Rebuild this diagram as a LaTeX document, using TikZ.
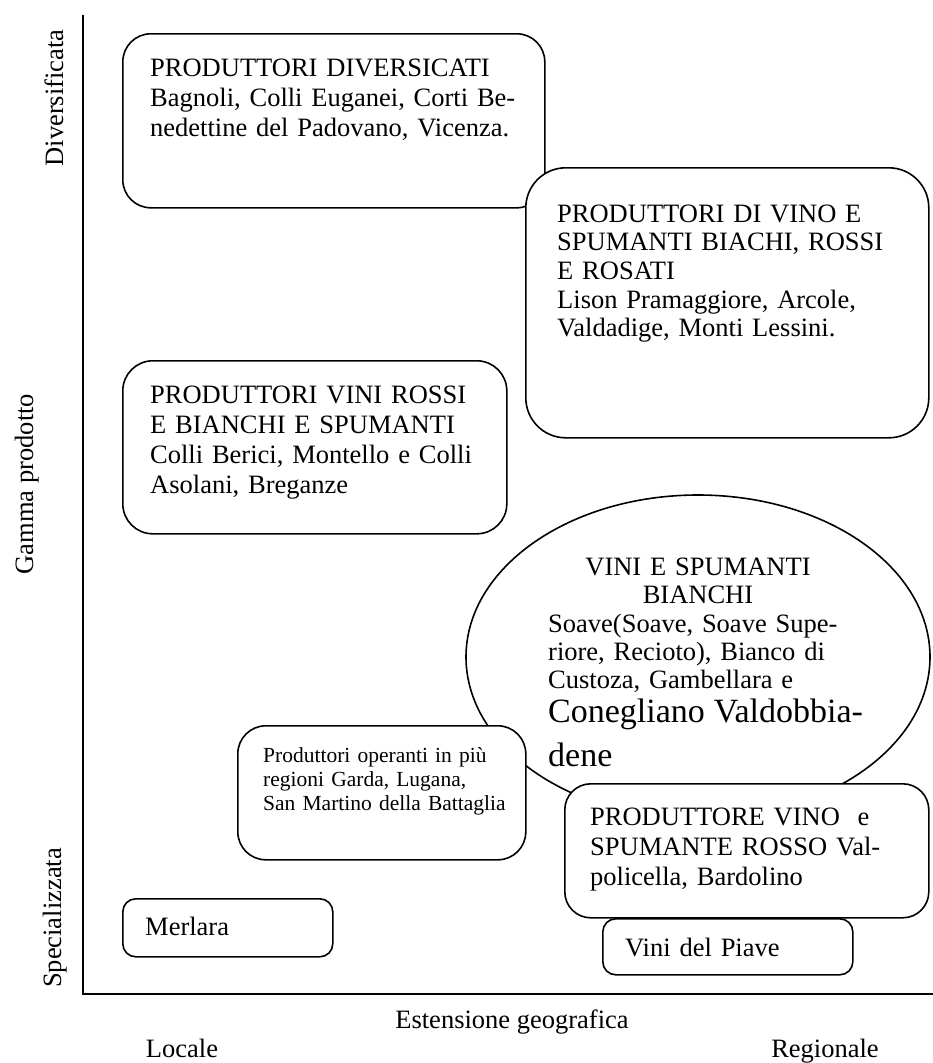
\documentclass[tikz,border=0pt]{standalone}
\usepackage{fontspec}
\setmainfont{Liberation Serif}
\usetikzlibrary{shapes.geometric}

\begin{document}
\begin{tikzpicture}[x=1pt, y=-1pt,
    box/.style={draw, line width=1.6pt, fill=white, rounded corners=#1,
      anchor=north west, inner sep=0pt},
    box/.default=28pt,
    txt/.style={anchor=base west, inner sep=0pt, text width=400pt, align=left,
      font=\fontsize{26.5}{30}\selectfont},
    lbl/.style={anchor=base, inner sep=0pt, font=\fontsize{26.5}{30}\selectfont}]
  \useasboundingbox (0,0) rectangle (933,1063);
  % assi
  \coordinate (top) at (83,15);
  \coordinate (origin) at (83,994);
  \coordinate (right) at (933,994);
  \draw[line width=1.6pt] (top) -- (origin) -- (right);
  \node[lbl, rotate=90] (divers) at (63,98) {Diversificata};
  \node[lbl, rotate=90] (gamma) at (33,484) {Gamma prodotto};
  \node[lbl, rotate=90] (spec) at (61,918) {Specializzata};
  \node[lbl] (estens) at (512,1028) {Estensione geografica};
  \node[lbl] (locale) at (182,1057) {Locale};
  \node[lbl] (regio) at (825,1057) {Regionale};
  % riquadri
  \node[box, minimum width=422pt, minimum height=174pt] (diversi) at (122,33) {};
  \node[txt] at (150,76) {PRODUTTORI DIVERSICATI\\
    Bagnoli, Colli Euganei, Corti Be-\\
    nedettine del Padovano, Vicenza.};
  \node[box=40pt, minimum width=403pt, minimum height=270pt] (rosati) at (525,167) {};
  \node[txt, font=\fontsize{26.5}{28.7}\selectfont] at (557,222) {PRODUTTORI DI VINO E\\
    SPUMANTI BIACHI, ROSSI\\
    E ROSATI\\
    Lison Pramaggiore, Arcole,\\
    Valdadige, Monti Lessini.};
  \node[box=30pt, minimum width=384pt, minimum height=173pt] (rossi) at (122,360) {};
  \node[txt] at (150,403) {PRODUTTORI VINI ROSSI\\
    E BIANCHI E SPUMANTI\\
    Colli Berici, Montello e Colli\\
    Asolani, Breganze};
  \node[draw, ellipse, line width=1.6pt, fill=white, inner sep=0pt,
    minimum width=464pt, minimum height=324pt] (bianchi) at (698,657) {};
  \node[txt, anchor=base, text width=300pt, align=center,
    font=\fontsize{26.5}{28.3}\selectfont] at (698,575) {VINI E SPUMANTI\\ BIANCHI};
  \node[txt, font=\fontsize{26.5}{28.3}\selectfont] at (548,632) {Soave(Soave, Soave Supe-\\
    riore, Recioto), Bianco di\\
    Custoza, Gambellara e\\[5.7pt]
    {\fontsize{34}{39}\selectfont Conegliano Valdobbia-}\\[11.7pt]
    {\fontsize{34}{39}\selectfont dene}};
  \node[box, minimum width=288pt, minimum height=134pt] (regioni) at (237,725) {};
  \node[txt, font=\fontsize{21.5}{24}\selectfont] at (263,762) {Produttori operanti in più\\
    regioni Garda, Lugana,\\
    San Martino della Battaglia};
  \node[box=26pt, minimum width=364pt, minimum height=134pt] (rosso) at (564,783) {};
  \node[txt] at (590,825) {PRODUTTORE VINO\ \ e\\
    SPUMANTE ROSSO Val-\\
    policella, Bardolino};
  \node[box=13pt, minimum width=210pt, minimum height=58pt] (merlara) at (122,898) {};
  \node[txt] at (145,935) {Merlara};
  \node[box=13pt, minimum width=250pt, minimum height=56pt] (piave) at (602,918) {};
  \node[txt] at (625,956) {Vini del Piave};
\end{tikzpicture}
\end{document}
